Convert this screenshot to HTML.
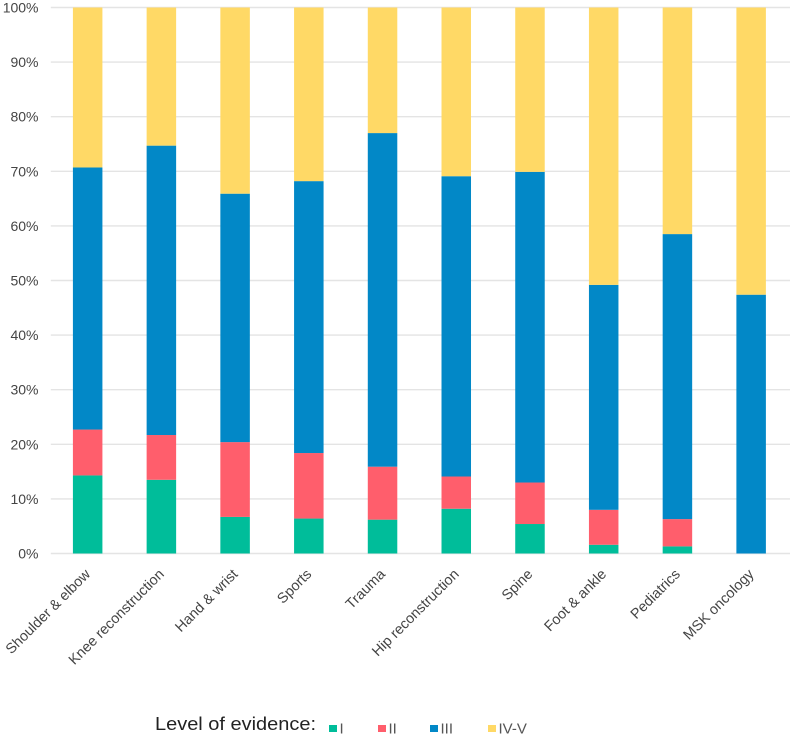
<!DOCTYPE html>
<html>
<head>
<meta charset="utf-8">
<title>Level of evidence by subspecialty</title>
<style>
html,body{margin:0;padding:0;background:#fff;}
svg{display:block;font-family:"Liberation Sans",sans-serif;filter:blur(0.35px);}
</style>
</head>
<body>
<svg id="chart" width="790" height="735" viewBox="0 0 790 735" xmlns="http://www.w3.org/2000/svg">
<g id="grid"></g>
<g id="bars"></g>
<g id="yticks"></g>
<g id="xticks"></g>
<g id="legend">
<text x="155" y="730" font-size="18.5" fill="#222" textLength="161" lengthAdjust="spacingAndGlyphs">Level of evidence:</text>
</g>
</svg>
<script>
const categories = ["Shoulder & elbow","Knee reconstruction","Hand & wrist","Sports","Trauma","Hip reconstruction","Spine","Foot & ankle","Pediatrics","MSK oncology"];
const levelI = [14.3,13.5,6.7,6.4,6.2,8.2,5.4,1.6,1.3,0];
const levelII = [8.4,8.2,13.7,12.0,9.7,5.9,7.6,6.4,5.0,0];
const levelIII = [48.0,53.0,45.5,49.8,61.1,55.0,56.9,41.2,52.2,47.4];
const levelIVV = [29.3,25.3,34.1,31.8,23.0,30.9,30.1,50.8,41.5,52.6];
const yTicks = [0,10,20,30,40,50,60,70,80,90,100];
const seriesNames = ["I","II","III","IV-V"];

const NS = "http://www.w3.org/2000/svg";
const colors = ["#00BD9A","#FF5E6C","#0288C7","#FFD966"];
const series = [levelI, levelII, levelIII, levelIVV];
const left = 50.8, right = 788, top0 = 7.5, bottom = 553.5;
const band = (right - left) / categories.length;
const barW = 29.5;
const yScale = v => bottom - (v / 100) * (bottom - top0);
const xCenter = i => left + band * (i + 0.5);

const grid = document.getElementById("grid");
const yG = document.getElementById("yticks");
yTicks.forEach(t => {
  const l = document.createElementNS(NS, "line");
  
  
  l.setAttribute("x1", left);
  l.setAttribute("x2", 790);
  l.setAttribute("y1", yScale(t));
  l.setAttribute("y2", yScale(t));
  l.setAttribute("stroke", "#E4E4E4");
  l.setAttribute("stroke-width", "1.4");
  grid.appendChild(l);
  const s = document.createElementNS(NS, "text");
  
  
  s.setAttribute("x", 38.5);
  s.setAttribute("y", yScale(t) + 5);
  s.setAttribute("text-anchor", "end");
  s.setAttribute("font-size", "14");
  s.setAttribute("fill", "#444");
  s.textContent = t + "%";
  yG.appendChild(s);
});

const barsG = document.getElementById("bars");
categories.forEach((c, i) => {
  let acc = 0;
  series.forEach((arr, k) => {
    const v = arr[i];
    if (v > 0) {
      const r = document.createElementNS(NS, "rect");
      
      
      r.setAttribute("x", xCenter(i) - barW / 2);
      r.setAttribute("y", yScale(acc + v));
      r.setAttribute("width", barW);
      r.setAttribute("height", yScale(acc) - yScale(acc + v));
      r.setAttribute("fill", colors[k]);
      barsG.appendChild(r);
    }
    acc += v;
  });
});

const xG = document.getElementById("xticks");
categories.forEach((c, i) => {
  const px = xCenter(i) + 3.5, py = 575;
  const s = document.createElementNS(NS, "text");
  
  
  s.setAttribute("x", px);
  s.setAttribute("y", py);
  s.setAttribute("text-anchor", "end");
  s.setAttribute("font-size", "14.4");
  s.setAttribute("fill", "#444");
  s.setAttribute("transform", "rotate(-45 " + px + " " + py + ")");
  s.textContent = c;
  xG.appendChild(s);
});

const legend = document.getElementById("legend");
const legendX = [329, 378, 430, 488];
seriesNames.forEach((n, k) => {
  const r = document.createElementNS(NS, "rect");
  
  
  r.setAttribute("x", legendX[k]);
  r.setAttribute("y", 725);
  r.setAttribute("width", 8);
  r.setAttribute("height", 7);
  r.setAttribute("fill", colors[k]);
  legend.appendChild(r);
  const s = document.createElementNS(NS, "text");
  
  
  s.setAttribute("x", legendX[k] + 10.5);
  s.setAttribute("y", 733.5);
  s.setAttribute("font-size", "15");
  s.setAttribute("fill", "#555");
  s.textContent = n;
  legend.appendChild(s);
});
</script>
</body>
</html>
